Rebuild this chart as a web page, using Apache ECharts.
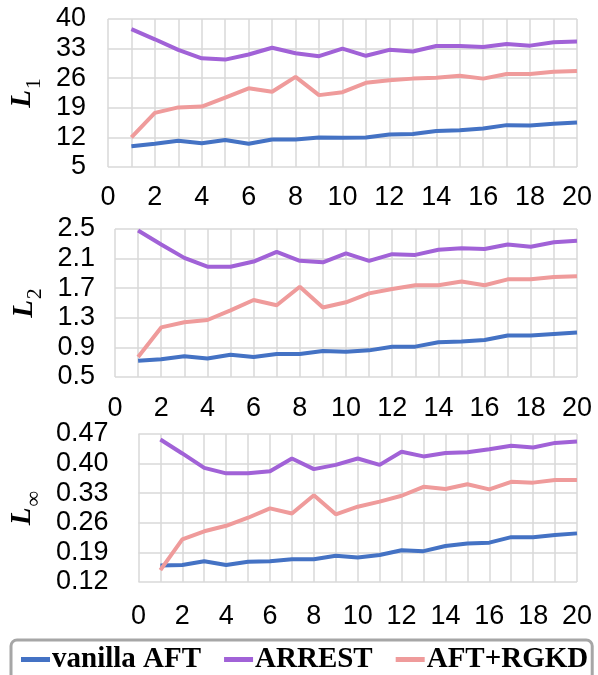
<!DOCTYPE html>
<html>
<head>
<meta charset="utf-8">
<script src="https://cdn.jsdelivr.net/npm/echarts@6/dist/echarts.min.js"></script>
<style>
html,body{margin:0;padding:0;background:#fff;}
#chart{width:598px;height:675px;}
</style>
</head>
<body>
<div id="chart"></div>
<script>
// x positions (epochs)
var xs = [1,2,3,4,5,6,7,8,9,10,11,12,13,14,15,16,17,18,19,20];
var xTicks = [0,2,4,6,8,10,12,14,16,18,20];
var seriesNames = ['vanilla AFT','ARREST','AFT+RGKD'];

// L1
var l1Vanilla = [9.9,10.5,11.2,10.6,11.4,10.5,11.5,11.5,12.0,11.9,12.0,12.7,12.8,13.5,13.7,14.1,14.9,14.8,15.2,15.5];
var l1Arrest  = [37.6,35.2,32.7,30.7,30.4,31.6,33.2,31.9,31.2,33.0,31.3,32.7,32.3,33.6,33.6,33.4,34.1,33.7,34.5,34.7];
var l1Rgkd    = [12.0,17.8,19.1,19.3,21.4,23.6,22.8,26.3,22.0,22.7,24.9,25.5,25.9,26.1,26.6,25.9,27.0,27.0,27.5,27.7];
var l1Ticks = [5,12,19,26,33,40];

// L2
var l2Vanilla = [0.72,0.74,0.78,0.75,0.80,0.77,0.81,0.81,0.85,0.84,0.86,0.91,0.91,0.97,0.98,1.00,1.06,1.06,1.08,1.10];
var l2Arrest  = [2.48,2.29,2.11,1.99,1.99,2.06,2.19,2.07,2.05,2.17,2.07,2.16,2.15,2.22,2.24,2.23,2.29,2.26,2.32,2.34];
var l2Rgkd    = [0.77,1.17,1.24,1.27,1.40,1.54,1.47,1.72,1.44,1.51,1.63,1.69,1.74,1.74,1.79,1.74,1.82,1.82,1.85,1.86];
var l2Ticks = [0.5,0.9,1.3,1.7,2.1,2.5];

// L-infinity
var linfVanilla = [0.159,0.160,0.169,0.160,0.168,0.169,0.174,0.174,0.182,0.178,0.184,0.195,0.193,0.205,0.211,0.213,0.226,0.226,0.231,0.235];
var linfArrest  = [0.457,0.424,0.390,0.377,0.377,0.382,0.412,0.387,0.397,0.412,0.397,0.428,0.417,0.425,0.427,0.434,0.442,0.438,0.449,0.452];
var linfRgkd    = [0.148,0.221,0.240,0.253,0.272,0.294,0.282,0.325,0.280,0.298,0.310,0.324,0.345,0.340,0.351,0.339,0.357,0.355,0.361,0.361];
var linfTicks = [0.12,0.19,0.26,0.33,0.40,0.47];

var colors = ['#4472C4','#A162D7','#EF9B9B'];
var gridColor = '#D9D9D9';

function pairs(arr){ return arr.map(function(v,i){ return [xs[i], v]; }); }

var grids = [
  {left:100, right:21, top:19, height:148},
  {left:115, right:21, top:229, height:148},
  {left:130, right:21, top:434, height:148}
];

function xAxisFor(gi, margin){
  return {
    type:'value', gridIndex:gi, min:xTicks[0], max:xTicks[xTicks.length-1], interval:xTicks[1]-xTicks[0],
    axisLine:{show:false}, axisTick:{show:false},
    axisLabel:{fontFamily:'Liberation Sans', fontSize:27, color:'#000', margin:margin},
    splitLine:{show:true, lineStyle:{color:gridColor, width:1.5}},
    minorTick:{show:false, splitNumber:2},
    minorSplitLine:{show:true, lineStyle:{color:gridColor, width:1.5}}
  };
}

function yAxisFor(gi, ticks, digits, sub, nameGap, labelMargin){
  return {
    type:'value', gridIndex:gi, min:ticks[0], max:ticks[ticks.length-1],
    interval:+(ticks[1]-ticks[0]).toFixed(4),
    axisLine:{show:false}, axisTick:{show:false},
    axisLabel:{fontFamily:'Liberation Sans', fontSize:27, color:'#000', margin:labelMargin,
      formatter:function(v){ return digits===0 ? String(Math.round(v)) : v.toFixed(digits); }},
    splitLine:{show:true, lineStyle:{color:gridColor, width:1.5}},
    name:'{l|L}{s|' + sub + '}', nameLocation:'middle', nameRotate:90, nameGap:nameGap,
    nameTextStyle:{
      rich:{
        l:{fontFamily:'Liberation Serif', fontStyle:'italic', fontWeight:'bold', fontSize:29, lineHeight:29, color:'#000', verticalAlign:'top'},
        s:{fontFamily:'Liberation Serif', fontSize:22, lineHeight:22, color:'#000', padding:[15,0,0,1], verticalAlign:'top'}
      }
    }
  };
}

var dataSets = [
  [l1Vanilla, l1Arrest, l1Rgkd],
  [l2Vanilla, l2Arrest, l2Rgkd],
  [linfVanilla, linfArrest, linfRgkd]
];

var series = [];
dataSets.forEach(function(set, gi){
  set.forEach(function(arr, si){
    series.push({
      type:'line', name:seriesNames[si], xAxisIndex:gi, yAxisIndex:gi,
      data:pairs(arr), showSymbol:false, symbol:'none',
      lineStyle:{color:colors[si], width:4}, itemStyle:{color:colors[si]},
      animation:false
    });
  });
});

var chart = echarts.init(document.getElementById('chart'));
chart.setOption({
  animation:false,
  grid:grids,
  xAxis:[xAxisFor(0,17), xAxisFor(1,18), xAxisFor(2,21)],
  yAxis:[
    yAxisFor(0, l1Ticks, 0, '1', 58, 22),
    yAxisFor(1, l2Ticks, 1, '2', 73, 20),
    yAxisFor(2, linfTicks, 2, '\u221E', 88, 30)
  ],
  legend:{
    data:seriesNames, left:11, top:640,
    padding:[5,4,8,10], itemGap:23, itemWidth:29, itemHeight:5, icon:'rect',
    borderColor:'#A6A6A6', borderWidth:3, borderRadius:6,
    textStyle:{fontFamily:'Liberation Serif', fontWeight:'bold', fontSize:29, color:'#000', padding:[0,0,0,-3]}
  },
  series:series
});
</script>
</body>
</html>
